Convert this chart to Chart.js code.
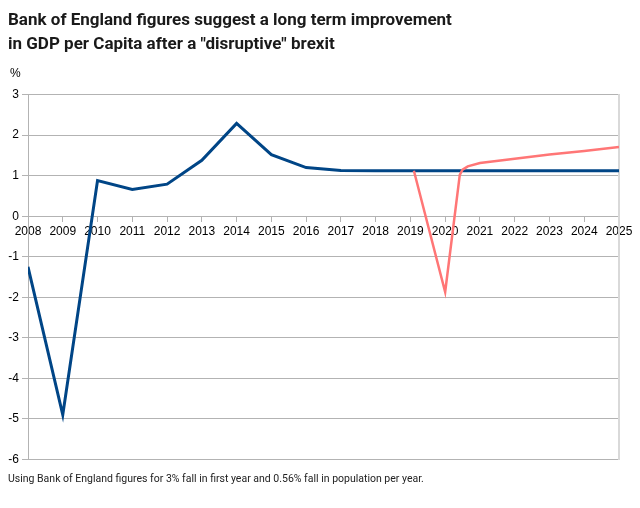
<!DOCTYPE html>
<html>
<head>
<meta charset="utf-8">
<script src="https://cdn.jsdelivr.net/npm/chart.js@4/dist/chart.umd.min.js"></script>
<style>
  html, body { margin: 0; padding: 0; background: #fff; }
  #wrap { width: 640px; height: 508px; }
</style>
</head>
<body>
<div id="wrap"><canvas id="chartGdp"></canvas></div>
<script>
// Chart data
const years = [2008, 2009, 2010, 2011, 2012, 2013, 2014, 2015, 2016, 2017, 2018, 2019, 2020, 2021, 2022, 2023, 2024, 2025];
const baseGrowth = [-1.25, -4.9, 0.88, 0.66, 0.79, 1.38, 2.29, 1.52, 1.2, 1.13, 1.12, 1.12, 1.12, 1.12, 1.12, 1.12, 1.12, 1.12];
const brexitYears = [2019.1, 2020, 2020.42, 2020.5, 2020.65, 2021, 2022, 2023, 2024, 2025];
const brexitGrowth = [1.12, -1.87, 1.02, 1.15, 1.23, 1.31, 1.42, 1.52, 1.61, 1.71];
const yTicks = [-6, -5, -4, -3, -2, -1, 0, 1, 2, 3];

const titleLines = ['Bank of England figures suggest a long term improvement', 'in GDP per Capita after a "disruptive" brexit'];
const footNote = 'Using Bank of England figures for 3% fall in first year and 0.56% fall in population per year.';

// "%" label above the y axis
const percentLabel = {
  id: 'percentLabel',
  afterDraw(chart) {
    const c = chart.ctx;
    c.save();
    c.font = '12px "Liberation Sans", Arial, sans-serif';
    c.fillStyle = '#000';
    c.textAlign = 'left';
    c.textBaseline = 'middle';
    c.fillText('%', 10, chart.chartArea.top - 21);
    c.restore();
  }
};

const ctx = document.getElementById('chartGdp').getContext('2d');
const myChart = new Chart(ctx, {
  type: 'line',
  plugins: [percentLabel],
  data: {
    datasets: [
      {
        label: 'Base',
        data: years.map((y, i) => ({ x: y, y: baseGrowth[i] })),
        borderColor: '#004586',
        borderWidth: 3,
        pointRadius: 0,
        tension: 0,
        order: 2
      },
      {
        label: 'Brexit',
        data: brexitYears.map((y, i) => ({ x: y, y: brexitGrowth[i] })),
        borderColor: '#ff7676',
        borderWidth: 2.5,
        pointRadius: 0,
        tension: 0,
        order: 1
      }
    ]
  },
  options: {
    responsive: true,
    maintainAspectRatio: false,
    animation: false,
    layout: { padding: { left: 8, right: 13, top: 9, bottom: 22 } },
    plugins: {
      legend: { display: false },
      tooltip: { enabled: false },
      title: {
        display: true,
        text: titleLines,
        align: 'start',
        color: '#1a1a1a',
        font: { family: 'Roboto, sans-serif', size: 17, weight: 'bold', lineHeight: 1.4 },
        padding: { top: 0, bottom: 38 }
      },
      subtitle: {
        display: true,
        text: footNote,
        position: 'bottom',
        align: 'start',
        color: '#222',
        font: { family: 'Roboto, sans-serif', size: 10.5 },
        padding: { top: 14, bottom: 0 }
      }
    },
    scales: {
      x: {
        type: 'linear',
        min: 2008,
        max: 2025,
        position: { y: 0 },
        ticks: {
          stepSize: 1,
          autoSkip: false,
          maxRotation: 0,
          color: '#000',
          padding: 3,
          font: { family: '"Liberation Sans", Arial, sans-serif', size: 12 },
          callback: v => String(v)
        },
        grid: { drawOnChartArea: false, tickLength: 5, color: '#b3b3b3' },
        border: { color: '#b3b3b3' }
      },
      y: {
        min: -6,
        max: 3,
        afterBuildTicks: axis => { axis.ticks = yTicks.map(v => ({ value: v })); },
        afterFit: axis => { axis.width = 20; },
        ticks: {
          color: '#000',
          padding: 3,
          font: { family: '"Liberation Sans", Arial, sans-serif', size: 12 }
        },
        grid: { color: '#b3b3b3', tickLength: 6 },
        border: { color: '#b3b3b3' }
      },
      y2: {
        position: 'right',
        min: -6,
        max: 3,
        ticks: { display: false },
        grid: { display: false },
        border: { display: true, color: '#d9d9d9', width: 2 }
      }
    }
  }
});
</script>
</body>
</html>
